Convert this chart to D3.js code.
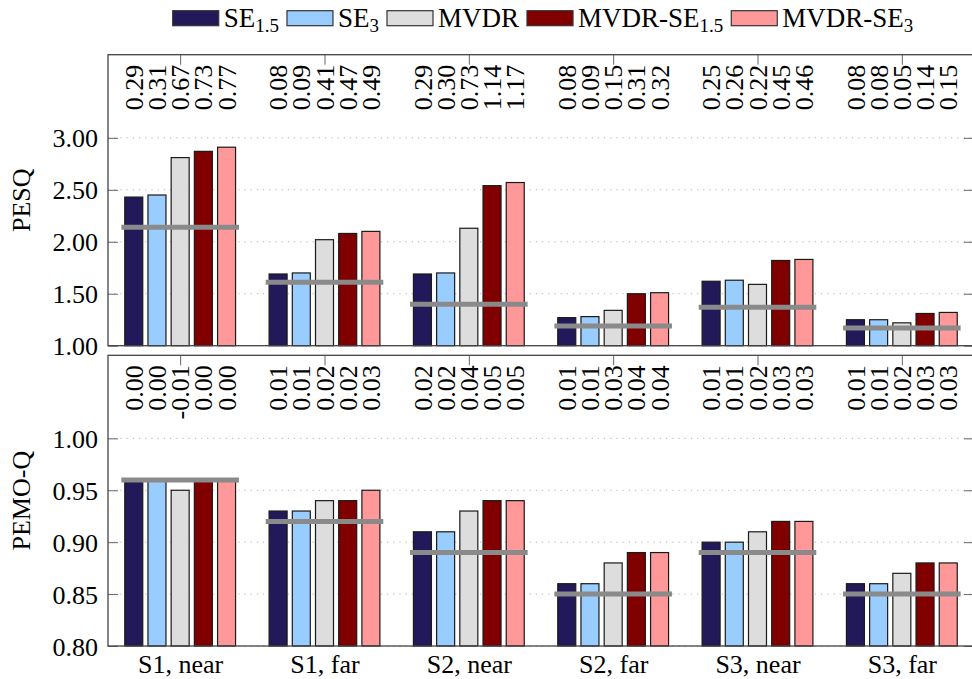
<html>
<head>
  <script src="https://d3js.org/d3.v7.min.js"></script>
  <style>
    body { margin: 0; background: #fff; }
    svg text { font-family: "Liberation Serif", "Times New Roman", serif !important; fill: #000; }
    .grid line { stroke: #b0b0b0; stroke-width: 1px; stroke-dasharray: 1.2, 5; }
    .frame { fill: none; stroke: #444; stroke-width: 1.3px; }
    .bar { stroke: #1a1a1a; stroke-width: 1.2px; }
    .ref { stroke: #8a8a8a; stroke-width: 5px; }
    .axis line { stroke: #666; stroke-width: 1px; }
    .axis path { display: none; }
  </style>
</head>
<body>
  <svg id="chart" width="972" height="679" font-family="Liberation Serif"></svg>
  <script>
    // data
    const categories = ["S1, near", "S1, far", "S2, near", "S2, far", "S3, near", "S3, far"];
    const seriesNames = ["SE1.5", "SE3", "MVDR", "MVDR-SE1.5", "MVDR-SE3"];
    const seriesBase = ["SE", "SE", "MVDR", "MVDR-SE", "MVDR-SE"];
    const seriesSub = ["1.5", "3", "", "1.5", "3"];
    const seriesColors = ["#22195a", "#99ccff", "#dddddd", "#800000", "#ff9999"];

    // PESQ, one array per series (over categories)
    const pesqSE15 = [2.43, 1.69, 1.69, 1.27, 1.62, 1.25];
    const pesqSE3 = [2.45, 1.70, 1.70, 1.28, 1.63, 1.25];
    const pesqMVDR = [2.81, 2.02, 2.13, 1.34, 1.59, 1.22];
    const pesqMVDRSE15 = [2.87, 2.08, 2.54, 1.50, 1.82, 1.31];
    const pesqMVDRSE3 = [2.91, 2.10, 2.57, 1.51, 1.83, 1.32];
    const pesqRef = [2.14, 1.61, 1.40, 1.19, 1.37, 1.17];
    const pesqDelta = [
      ["0.29", "0.31", "0.67", "0.73", "0.77"],
      ["0.08", "0.09", "0.41", "0.47", "0.49"],
      ["0.29", "0.30", "0.73", "1.14", "1.17"],
      ["0.08", "0.09", "0.15", "0.31", "0.32"],
      ["0.25", "0.26", "0.22", "0.45", "0.46"],
      ["0.08", "0.08", "0.05", "0.14", "0.15"]
    ];
    const pesqTicks = [1.0, 1.5, 2.0, 2.5, 3.0];

    // PEMO-Q
    const pemoSE15 = [0.96, 0.93, 0.91, 0.86, 0.90, 0.86];
    const pemoSE3 = [0.96, 0.93, 0.91, 0.86, 0.90, 0.86];
    const pemoMVDR = [0.95, 0.94, 0.93, 0.88, 0.91, 0.87];
    const pemoMVDRSE15 = [0.96, 0.94, 0.94, 0.89, 0.92, 0.88];
    const pemoMVDRSE3 = [0.96, 0.95, 0.94, 0.89, 0.92, 0.88];
    const pemoRef = [0.96, 0.92, 0.89, 0.85, 0.89, 0.85];
    const pemoDelta = [
      ["0.00", "0.00", "-0.01", "0.00", "0.00"],
      ["0.01", "0.01", "0.02", "0.02", "0.03"],
      ["0.02", "0.02", "0.04", "0.05", "0.05"],
      ["0.01", "0.01", "0.03", "0.04", "0.04"],
      ["0.01", "0.01", "0.02", "0.03", "0.03"],
      ["0.01", "0.01", "0.02", "0.03", "0.03"]
    ];
    const pemoTicks = [0.80, 0.85, 0.90, 0.95, 1.00];

    const svg = d3.select("#chart");
    const serif = '"Liberation Serif", "Times New Roman", serif';
    const left = 108, right = 974;
    const fontSize = 26;
    const barWidth = 18;

    const x = d3.scalePoint().domain(categories).range([left, right]).padding(0.5);
    const xs = d3.scalePoint().domain(seriesNames).range([-46.4, 46.4]);
    const refHalf = 58.8;

    const panels = [
      { title: "PESQ", top: 54.7, bottom: 345.7, domain: [1, 3.8], ticks: pesqTicks,
        values: [pesqSE15, pesqSE3, pesqMVDR, pesqMVDRSE15, pesqMVDRSE3], ref: pesqRef, deltas: pesqDelta, xLabels: false },
      { title: "PEMO-Q", top: 355.3, bottom: 646, domain: [0.8, 1.08], ticks: pemoTicks,
        values: [pemoSE15, pemoSE3, pemoMVDR, pemoMVDRSE15, pemoMVDRSE3], ref: pemoRef, deltas: pemoDelta, xLabels: true }
    ];

    panels.forEach(p => {
      const y = d3.scaleLinear().domain(p.domain).range([p.bottom, p.top]);
      const g = svg.append("g");

      // grid
      g.append("g").attr("class", "grid")
        .selectAll("line").data(p.ticks).join("line")
        .attr("x1", left).attr("x2", right)
        .attr("y1", d => y(d)).attr("y2", d => y(d));

      // axes ticks
      g.append("g").attr("class", "axis")
        .attr("transform", `translate(${left},0)`)
        .call(d3.axisLeft(y).tickValues(p.ticks).tickFormat(d3.format(".2f"))
          .tickSizeInner(-10).tickSizeOuter(0).tickPadding(10))
        .attr("font-family", serif)
        .selectAll("text").style("font-size", fontSize + "px").attr("dy", "0.35em");
      g.append("g").attr("class", "axis")
        .attr("transform", `translate(${right},0)`)
        .call(d3.axisRight(y).tickValues(p.ticks).tickFormat("").tickSizeInner(-10).tickSizeOuter(0));
      g.append("g").attr("class", "axis")
        .attr("transform", `translate(0,${p.top})`)
        .call(d3.axisTop(x).tickFormat("").tickSizeInner(-10).tickSizeOuter(0));

      if (p.xLabels) {
        g.append("g").attr("class", "axis")
          .attr("transform", `translate(0,${p.bottom})`)
          .call(d3.axisBottom(x).tickSizeInner(0).tickSizeOuter(0).tickPadding(9))
          .attr("font-family", serif)
          .selectAll("text").style("font-size", fontSize + "px");
      }

      // bars
      p.values.forEach((vals, si) => {
        g.append("g").selectAll("rect").data(vals).join("rect")
          .attr("class", "bar")
          .attr("x", (d, i) => x(categories[i]) + xs(seriesNames[si]) - barWidth / 2)
          .attr("y", d => y(d))
          .attr("width", barWidth)
          .attr("height", d => y(p.domain[0]) - y(d))
          .style("fill", seriesColors[si]);
      });

      // reference lines
      g.append("g").selectAll("line").data(p.ref).join("line")
        .attr("class", "ref")
        .attr("x1", (d, i) => x(categories[i]) - refHalf)
        .attr("x2", (d, i) => x(categories[i]) + refHalf)
        .attr("y1", d => y(d)).attr("y2", d => y(d));

      // improvement labels
      p.deltas.forEach((row, ci) => {
        g.append("g").selectAll("text").data(row).join("text")
          .attr("transform", (d, si) => `translate(${x(categories[ci]) + xs(seriesNames[si])},${p.top + 10}) rotate(-90)`)
          .attr("text-anchor", "end")
          .attr("dy", "0.35em")
          .style("font-family", serif)
          .style("font-size", fontSize + "px")
          .text(d => d);
      });

      // frame
      g.append("rect").attr("class", "frame")
        .attr("x", left).attr("y", p.top)
        .attr("width", right - left).attr("height", p.bottom - p.top);

      // y title
      g.append("text")
        .attr("transform", `translate(21,${(p.top + p.bottom) / 2}) rotate(-90)`)
        .attr("text-anchor", "middle")
        .attr("dy", "0.35em")
        .style("font-family", serif)
        .style("font-size", fontSize + "px")
        .text(p.title);
    });

    // legend
    const legend = svg.append("g");
    let cx = 0;
    seriesNames.forEach((s, i) => {
      const item = legend.append("g");
      item.append("rect")
        .attr("x", cx).attr("y", 10.7)
        .attr("width", 46).attr("height", 15)
        .style("fill", seriesColors[i])
        .style("stroke", "#333").style("stroke-width", 1.2);
      const t = item.append("text")
        .attr("x", cx + 51).attr("y", 26.5)
        .style("font-family", serif)
        .style("font-size", "27px");
      t.append("tspan").text(seriesBase[i]);
      if (seriesSub[i]) {
        t.append("tspan").attr("dy", 5).style("font-size", "19px").text(seriesSub[i]);
      }
      cx += 51 + t.node().getComputedTextLength() + 8;
    });
    const legendWidth = cx - 8;
    legend.attr("transform", `translate(${543 - legendWidth / 2},0)`);
  </script>
</body>
</html>
